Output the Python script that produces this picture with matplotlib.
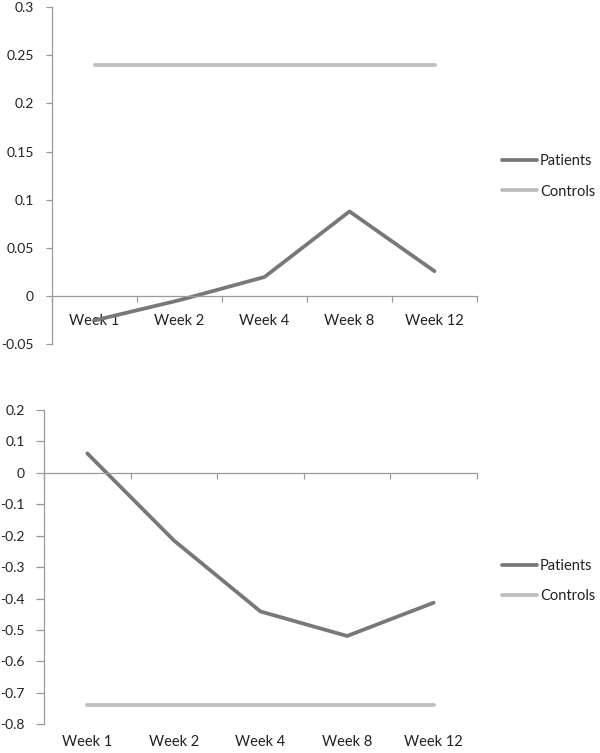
import matplotlib.pyplot as plt
import numpy as np

plt.rcParams['font.family'] = ['Lato', 'DejaVu Sans']
plt.rcParams['font.size'] = 10
plt.rcParams['axes.unicode_minus'] = False

weeks = ["Week 1", "Week 2", "Week 4", "Week 8", "Week 12"]

# top panel
top_patients = [-0.025, -0.004, 0.02, 0.088, 0.026]
top_controls = [0.24, 0.24, 0.24, 0.24, 0.24]
top_ticks = [-0.05, 0, 0.05, 0.1, 0.15, 0.2, 0.25, 0.3]
top_ticklabels = ["-0.05", "0", "0.05", "0.1", "0.15", "0.2", "0.25", "0.3"]

# bottom panel
bot_patients = [0.062, -0.215, -0.441, -0.519, -0.413]
bot_controls = [-0.738, -0.738, -0.738, -0.738, -0.738]
bot_ticks = [-0.8, -0.7, -0.6, -0.5, -0.4, -0.3, -0.2, -0.1, 0, 0.1, 0.2]
bot_ticklabels = ["-0.8", "-0.7", "-0.6", "-0.5", "-0.4", "-0.3", "-0.2",
                  "-0.1", "0", "0.1", "0.2"]

PAT = "#787878"
CON = "#bdbdbd"
AXC = "#9a9a9a"
TXT = "#222222"

fig = plt.figure(figsize=(6, 7.53), dpi=100)


def panel(rect, pat, con, ticks, ticklabels, labels_low, ypad, ticklen, xpad, leg_y):
    ax = fig.add_axes(rect)
    x = np.arange(len(weeks))
    ax.plot(x, pat, color=PAT, lw=2.7, solid_capstyle="round", label="Patients")
    ax.plot(x, con, color=CON, lw=2.7, solid_capstyle="round", label="Controls")
    ax.set_xlim(-0.5, len(weeks) - 0.5)
    ax.set_ylim(ticks[0], ticks[-1])
    for s in ["top", "right"]:
        ax.spines[s].set_visible(False)
    for s in ["left", "bottom"]:
        ax.spines[s].set_color(AXC)
        ax.spines[s].set_linewidth(0.9)
    ax.spines["bottom"].set_position(("data", 0))
    ax.set_yticks(ticks)
    ax.set_yticklabels(ticklabels)
    ax.tick_params(axis="y", direction="out", length=ticklen, width=0.9,
                   color=AXC, labelcolor=TXT, pad=ypad, labelsize=10)
    ax.set_xticks(np.arange(len(weeks) + 1) - 0.5)
    ax.tick_params(axis="x", direction="out", length=4, width=0.9, color=AXC,
                   labelbottom=False)
    if labels_low:
        sec = ax.secondary_xaxis(0.0)
        sec.spines["bottom"].set_visible(False)
        sec.set_xticks(x)
        sec.set_xticklabels(weeks)
        sec.tick_params(length=0, pad=xpad, labelcolor=TXT, labelsize=10.5)
    else:
        ax.set_xticks(x, minor=True)
        ax.set_xticklabels(weeks, minor=True)
        ax.tick_params(axis="x", which="minor", length=0, pad=xpad,
                       labelcolor=TXT, labelsize=10.5)
    fig.legend(*ax.get_legend_handles_labels(), loc="center left",
               bbox_to_anchor=(0.837, leg_y), frameon=False, borderpad=0,
               borderaxespad=0, handlelength=2.4, handletextpad=0.2,
               labelspacing=1.1, fontsize=10.5, labelcolor=TXT)
    return ax


panel([0.0867, 0.5425, 0.7083, 0.4482], top_patients, top_controls,
      top_ticks, top_ticklabels, False, 9, 4, 13, 0.7656)
panel([0.0733, 0.0381, 0.7217, 0.4174], bot_patients, bot_controls,
      bot_ticks, bot_ticklabels, True, 8, 6, 8, 0.2284)

fig.savefig("out.png", dpi=100)
